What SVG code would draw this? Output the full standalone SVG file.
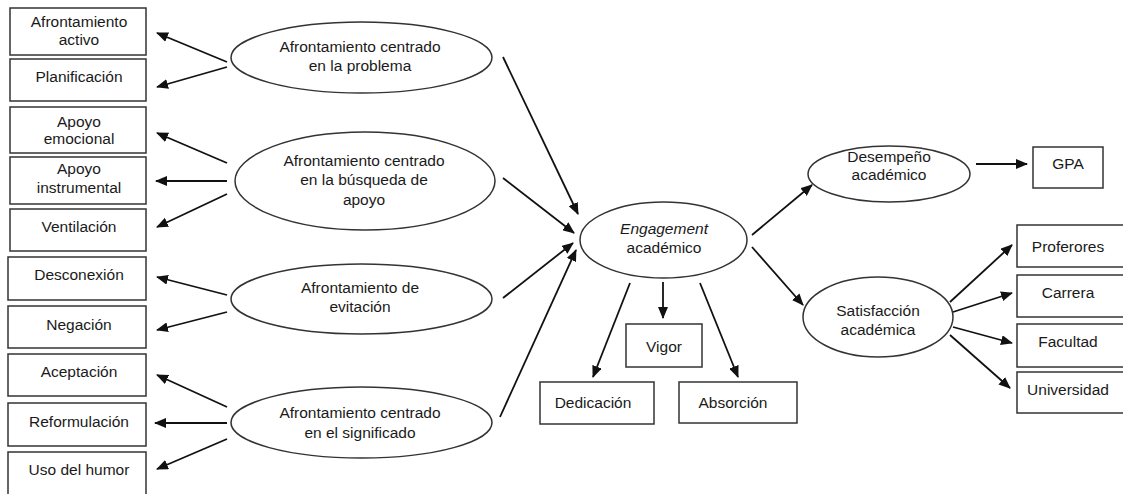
<svg xmlns="http://www.w3.org/2000/svg" width="1123" height="494" viewBox="0 0 1123 494">
<style>
  .box{fill:#fff;stroke:#333;stroke-width:1.5}
  .ell{fill:#fff;stroke:#333;stroke-width:1.5}
  text{font-family:"Liberation Sans",Arial,Helvetica,sans-serif;font-size:15.5px;fill:#1a1a1a;text-anchor:middle}
  .it{font-style:italic}
  .con line{stroke:#111;stroke-width:1.8;marker-end:url(#ah)}
</style>
<defs>
  <marker id="ah" viewBox="0 0 12 10" refX="11" refY="5" markerWidth="12" markerHeight="10" markerUnits="userSpaceOnUse" orient="auto">
    <path d="M0,0 L12,5 L0,10 Z" fill="#111"/>
  </marker>
</defs>
<rect width="1123" height="494" fill="#fff"/>

<g id="n-activo"><rect class="box" x="10" y="8" width="136" height="47"/><text x="79" y="27">Afrontamiento</text><text x="79" y="45">activo</text></g>
<g id="n-planificacion"><rect class="box" x="10" y="59" width="136" height="42"/><text x="79" y="82">Planificación</text></g>
<g id="n-emocional"><rect class="box" x="10" y="107" width="136" height="46"/><text x="79" y="127">Apoyo</text><text x="79" y="144">emocional</text></g>
<g id="n-instrumental"><rect class="box" x="10" y="157" width="136" height="47"/><text x="79" y="174">Apoyo</text><text x="79" y="193">instrumental</text></g>
<g id="n-ventilacion"><rect class="box" x="10" y="209" width="136" height="42"/><text x="79" y="232">Ventilación</text></g>
<g id="n-desconexion"><rect class="box" x="8" y="257" width="138" height="43"/><text x="79" y="280">Desconexión</text></g>
<g id="n-negacion"><rect class="box" x="8" y="306" width="138" height="42"/><text x="79" y="330">Negación</text></g>
<g id="n-aceptacion"><rect class="box" x="8" y="354" width="138" height="42"/><text x="79" y="377">Aceptación</text></g>
<g id="n-reformulacion"><rect class="box" x="8" y="403" width="138" height="43"/><text x="79" y="427">Reformulación</text></g>
<g id="n-humor"><rect class="box" x="8" y="452" width="138" height="50"/><text x="79" y="475">Uso del humor</text></g>

<g id="n-problema"><ellipse class="ell" cx="361.5" cy="57.5" rx="130.5" ry="35.5"/><text x="360" y="52">Afrontamiento centrado</text><text x="360" y="71">en la problema</text></g>
<g id="n-apoyo"><ellipse class="ell" cx="365" cy="181" rx="130" ry="49"/><text x="364" y="166">Afrontamiento centrado</text><text x="364" y="185">en la búsqueda de</text><text x="364" y="205">apoyo</text></g>
<g id="n-evitacion"><ellipse class="ell" cx="361.5" cy="299" rx="130.5" ry="35"/><text x="360" y="293">Afrontamiento de</text><text x="360" y="312">evitación</text></g>
<g id="n-significado"><ellipse class="ell" cx="361.5" cy="422.5" rx="130.5" ry="35.5"/><text x="360" y="418">Afrontamiento centrado</text><text x="360" y="438">en el significado</text></g>

<g id="n-engagement"><ellipse class="ell" cx="663.5" cy="240" rx="83.5" ry="38"/><text x="664" y="234" class="it">Engagement</text><text x="664" y="253">académico</text></g>
<g id="n-vigor"><rect class="box" x="626" y="324" width="76" height="43"/><text x="664" y="352">Vigor</text></g>
<g id="n-dedicacion"><rect class="box" x="540" y="382" width="114" height="42"/><text x="593" y="408">Dedicación</text></g>
<g id="n-absorcion"><rect class="box" x="679" y="382" width="118" height="41"/><text x="733" y="408">Absorción</text></g>

<g id="n-desempeno"><ellipse class="ell" cx="889" cy="174" rx="81" ry="28"/><text x="889" y="162">Desempeño</text><text x="889" y="180">académico</text></g>
<g id="n-gpa"><rect class="box" x="1033" y="147" width="70" height="41"/><text x="1068" y="169">GPA</text></g>
<g id="n-satisfaccion"><ellipse class="ell" cx="878" cy="317" rx="75" ry="40"/><text x="878" y="316">Satisfacción</text><text x="878" y="335">académica</text></g>
<g id="n-proferores"><rect class="box" x="1017" y="225" width="110" height="42"/><text x="1068" y="252">Proferores</text></g>
<g id="n-carrera"><rect class="box" x="1017" y="275" width="110" height="42"/><text x="1068" y="298">Carrera</text></g>
<g id="n-facultad"><rect class="box" x="1017" y="324" width="110" height="43"/><text x="1068" y="347">Facultad</text></g>
<g id="n-universidad"><rect class="box" x="1017" y="372" width="110" height="41"/><text x="1068" y="395">Universidad</text></g>

<g id="connectors" class="con">
  <line x1="227" y1="62" x2="157" y2="33"/>
  <line x1="227" y1="67" x2="157" y2="87"/>
  <line x1="227" y1="163" x2="157" y2="133"/>
  <line x1="227" y1="181" x2="156" y2="181"/>
  <line x1="227" y1="194" x2="157" y2="227"/>
  <line x1="227" y1="295" x2="157" y2="277"/>
  <line x1="227" y1="312" x2="157" y2="330"/>
  <line x1="227" y1="407" x2="157" y2="375"/>
  <line x1="227" y1="423" x2="155" y2="423"/>
  <line x1="227" y1="439" x2="157" y2="469"/>

  <line x1="503" y1="57" x2="578" y2="214"/>
  <line x1="503" y1="178" x2="574" y2="233"/>
  <line x1="503" y1="298" x2="573" y2="243"/>
  <line x1="500" y1="417" x2="576" y2="250"/>

  <line x1="630" y1="283" x2="593" y2="377"/>
  <line x1="663" y1="282" x2="663" y2="318"/>
  <line x1="700" y1="283" x2="738" y2="377"/>

  <line x1="752" y1="235" x2="812" y2="185"/>
  <line x1="752" y1="247" x2="803" y2="305"/>
  <line x1="976" y1="164" x2="1027" y2="164"/>
  <line x1="950" y1="302" x2="1012" y2="245"/>
  <line x1="953" y1="312" x2="1012" y2="293"/>
  <line x1="953" y1="327" x2="1012" y2="343"/>
  <line x1="950" y1="335" x2="1010" y2="388"/>
</g>
</svg>
